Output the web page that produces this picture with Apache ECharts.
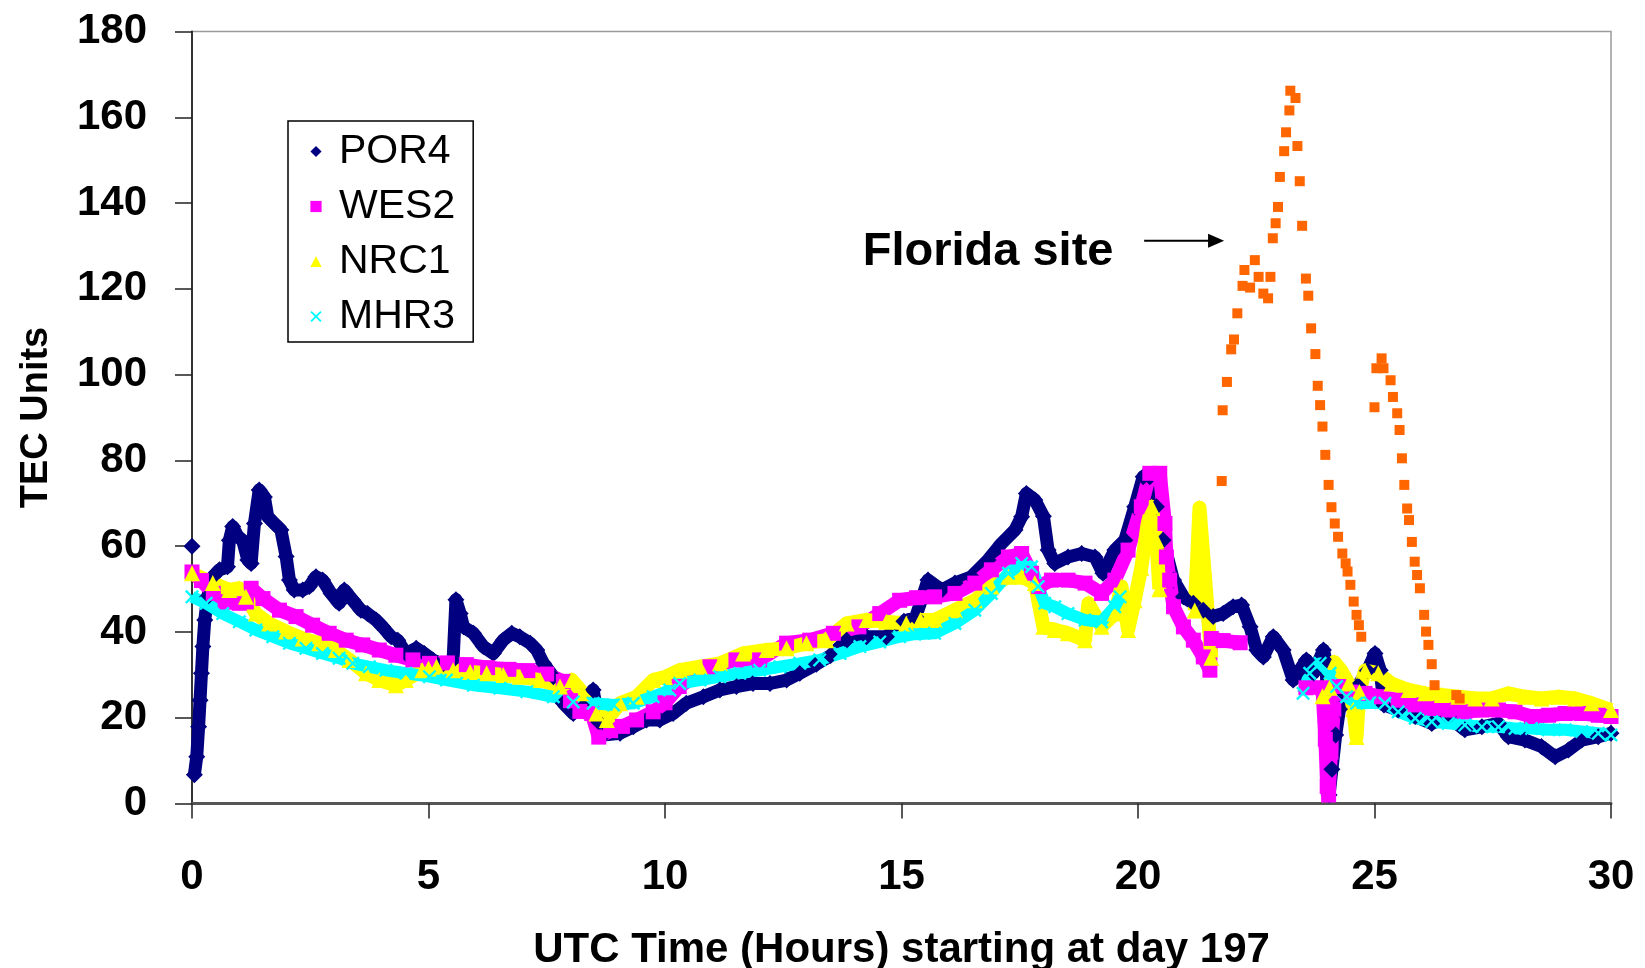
<!DOCTYPE html>
<html><head><meta charset="utf-8">
<script src="https://cdn.jsdelivr.net/npm/echarts@6/dist/echarts.min.js"></script>
<style>html,body{margin:0;padding:0;background:#fff}#c{width:1645px;height:968px}</style>
</head><body><div id="c"></div>
<script>
const FONT = '"Liberation Sans", Arial, Helvetica, sans-serif';

// x-axis / y-axis ranges and tick steps
const xRange = [0, 30], xStep = 5;
const yRange = [0, 180], yStep = 20;
const xTitle = 'UTC Time (Hours) starting at day 197';
const yTitle = 'TEC Units';
const seriesNames = ['POR4', 'WES2', 'NRC1', 'MHR3'];

// [hour, TEC]  ('-' = no data)
const por4 = [[0,60],[0.02,'-'],[0.05,6.7],[0.1,10.9],[0.14,17.9],[0.17,24.1],[0.2,30.4],[0.23,36.6],[0.27,42.8],[0.33,48.2],[0.44,52.9],[0.58,54.5],[0.75,55.2],[0.79,61.4],[0.86,64.6],[0.97,62.2],[1.07,61.4],[1.18,56.8],[1.25,56],[1.32,65.3],[1.42,73.1],[1.53,71.5],[1.6,66.9],[1.74,65.3],[1.88,63.8],[1.99,57.6],[2.06,52.1],[2.16,49.8],[2.34,49.8],[2.48,50.6],[2.62,52.9],[2.76,52.1],[2.94,49],[3.11,46.7],[3.22,49.8],[3.4,47.4],[3.57,45.1],[3.71,44.3],[3.89,42.8],[4.03,41.2],[4.21,38.9],[4.35,38.1],[4.52,35],[4.74,36.2],[4.91,35],[5.09,33.5],[5.3,32.5],[5.52,33.5],[5.58,47.5],[5.67,44.3],[5.74,41.2],[5.95,39.7],[6.16,36.6],[6.37,35],[6.58,38.1],[6.76,39.7],[6.93,38.9],[7.15,37.4],[7.29,35.8],[7.43,32.7],[7.64,29.6],[7.85,23.4],[8.06,21],[8.27,22.6],[8.48,26.5],[8.6,19],[8.7,16],[9.05,16.4],[9.33,17.9],[9.61,19.5],[9.89,19.5],[10.17,21],[10.45,23.4],[10.81,24.9],[11.16,26.5],[11.51,27.3],[11.86,28],[12.22,28],[12.57,28.8],[12.85,30.4],[13.2,32.5],[13.5,34.5],[13.84,38.1],[14.26,38.9],[14.68,38.9],[15.05,42.5],[15.3,43.5],[15.56,52.1],[15.85,49.8],[16.13,51.4],[16.48,52.9],[16.83,56.8],[17.12,60.7],[17.4,63.8],[17.54,66.9],[17.64,72.3],[17.82,70.8],[18,67],[18.1,59.1],[18.24,56],[18.52,57.5],[18.81,58.3],[19.09,57.5],[19.26,53.7],[19.51,59.1],[19.72,61.4],[19.93,69.2],[20.11,76.2],[20.25,76.2],[20.39,69.2],[20.53,61.4],[20.75,52.1],[20.96,48.2],[21.17,46.7],[21.38,45.1],[21.59,43.6],[21.8,44.3],[22.01,45.9],[22.19,46.3],[22.37,41.2],[22.51,35.8],[22.65,34.2],[22.86,38.9],[23.07,35.8],[23.28,28.8],[23.42,31.1],[23.56,33.5],[23.71,30.4],[23.92,35.8],[23.98,33],[24.04,2],[24.1,8],[24.18,16],[24.26,22],[24.33,26],[24.45,27],[24.65,27.5],[24.85,31],[25.01,35],[25.12,31.1],[25.2,23],[25.5,21.8],[25.86,20.3],[26.21,18.7],[26.56,20.3],[26.91,17.2],[27.27,17.9],[27.62,18.7],[27.83,15.6],[28.18,14.8],[28.53,13.3],[28.82,10.9],[29.1,12.5],[29.38,14.8],[29.73,15.6],[30,16.4]];

const wes2 = [[0,54],[0.2,52],[0.45,49],[0.7,47],[1,46.7],[1.15,47],[1.25,50.2],[1.5,47.8],[1.85,45.1],[2.2,43.6],[2.55,41.6],[2.9,39.7],[3.26,38.1],[3.61,37],[3.96,35.8],[4.31,34.6],[4.67,33.5],[5.02,32.7],[5.4,32.8],[5.8,32.4],[6.25,31.7],[6.7,31.3],[7.1,31],[7.5,30.2],[7.85,28.5],[8,24],[8.2,21.5],[8.45,21],[8.6,15.5],[8.85,17],[9.1,18],[9.4,19.5],[9.75,21.4],[10,23.5],[10.3,27.3],[10.95,31.9],[11.5,33.5],[12,33.5],[12.57,37.4],[13.06,38.1],[13.56,39.7],[14.1,41.2],[14.54,44.3],[14.96,47.4],[15.32,48],[15.7,48.2],[16.13,49],[16.55,51.4],[16.9,54.5],[17.26,57.5],[17.54,58.3],[17.75,53.7],[17.9,50.6],[18.17,52.1],[18.52,52.1],[18.88,51.4],[19.23,49],[19.51,52.1],[19.79,59.1],[20.07,69.2],[20.25,77],[20.46,77],[20.57,65.3],[20.6,57.5],[20.67,52.1],[20.75,45.9],[20.96,41.2],[21.17,38.1],[21.38,34.2],[21.52,31.1],[21.55,38.5],[21.8,38],[22.16,37.5],[22.3,'-'],[23.55,27],[23.9,27],[23.96,15],[24,4],[24.03,2],[24.08,12],[24.14,22],[24.25,27.3],[24.5,26],[24.8,25.7],[25.15,24.9],[25.5,24.1],[25.86,23],[26.21,22.2],[26.56,21.8],[26.91,21.4],[27.27,21.8],[27.62,21.8],[27.97,21.4],[28.32,20.3],[28.68,20.6],[29.03,21],[29.38,21],[29.73,20.6],[30,20.3]];

const nrc1 = [[0,53.7],[0.44,51.4],[0.79,49.8],[1,50.2],[1.14,48.2],[1.35,44.3],[1.63,42],[1.99,40.1],[2.34,38.5],[2.69,37.4],[3.04,35.8],[3.33,33.5],[3.68,30.4],[3.96,28.8],[4.31,27.6],[4.52,28.8],[4.87,31.1],[5,31.5],[5.17,31.9],[5.52,31.1],[5.88,30.7],[6.23,30.4],[6.58,30],[6.93,29.6],[7.36,28.8],[7.78,27.3],[8.03,28.8],[8.27,25.7],[8.55,21],[8.77,19.5],[9.05,23.4],[9.4,24.9],[9.75,28.8],[10,29.5],[10.31,31.1],[10.74,31.9],[11.16,32.7],[11.65,35],[12.15,35.8],[12.57,36.2],[12.99,37.4],[13.41,38.1],[13.84,42],[14.26,42.8],[14.68,42.4],[15.1,42],[15.4,42.8],[15.7,42.8],[16.13,45.1],[16.55,47.4],[16.9,50.6],[17.26,52.9],[17.54,52.9],[17.82,51.4],[18,41.2],[18.24,40.5],[18.52,39.7],[18.88,38.1],[18.95,46.7],[19.23,41.2],[19.51,44.3],[19.65,50.6],[19.79,40.5],[19.93,47.4],[20.07,55],[20.2,65],[20.29,69.2],[20.39,61.4],[20.45,50],[20.8,'-'],[21.2,45],[21.3,69],[21.4,55],[21.55,34],[22,'-'],[23.9,25],[24.05,27],[24.15,33],[24.3,31],[24.45,28],[24.55,22],[24.62,15.5],[24.68,26],[24.8,31],[25.08,30.4],[25.36,28],[25.72,26.5],[26.07,25.7],[26.42,25.3],[26.77,24.9],[27.13,24.5],[27.48,24.5],[27.83,25.7],[28.18,24.9],[28.53,24.5],[28.89,24.9],[29.24,24.5],[29.59,23.4],[30,21.8]];

const mhr3 = [[0,48.2],[0.3,46.7],[0.65,44.3],[1,42.4],[1.35,40.5],[1.71,38.9],[2.06,37.4],[2.41,36.2],[2.76,35],[3.11,33.9],[3.4,32.7],[3.75,31.9],[4.1,31.1],[4.52,30.4],[5.02,29.6],[5.38,28.8],[5.95,27.6],[6.51,26.9],[7.08,26.1],[7.64,24.9],[8.06,23.7],[8.48,23.4],[8.91,23],[9.33,23.4],[9.75,24.9],[10.1,26.5],[10.31,28],[10.74,28.8],[11.16,29.6],[11.58,30.4],[12,31.1],[12.43,31.9],[12.85,32.7],[13.27,33.5],[13.7,35],[14.12,36.6],[14.54,37.7],[14.96,38.9],[15.28,39.5],[15.7,39.7],[16.13,42],[16.55,45.1],[16.9,49],[17.26,53.7],[17.54,56],[17.75,55.2],[17.89,50.6],[18.03,46.7],[18.24,45.9],[18.52,44.3],[18.88,42.8],[19.23,42.4],[19.51,45.9],[19.62,48.2],[20,'-'],[23.49,25.7],[23.63,30.4],[23.85,32.7],[24.06,30.4],[24.2,27.3],[24.41,24.9],[24.62,23.4],[24.9,23.5],[25.22,23.4],[25.5,21.4],[25.86,19.9],[26.21,19.1],[26.56,18.7],[26.91,18.3],[27.27,17.9],[27.62,17.9],[27.97,17.5],[28.32,17.5],[28.68,17.2],[29.03,17.2],[29.38,16.8],[29.73,16.4],[30,16]];

const florida = [[21.77,75.2],[21.79,91.7],[21.88,98.3],[21.97,105.9],[22.03,108.2],[22.1,114.3],[22.21,120.7],[22.25,124.4],[22.37,120.3],[22.47,126.7],[22.55,122.8],[22.65,118.9],[22.75,117.8],[22.8,122.8],[22.85,131.8],[22.91,135.3],[22.96,139.1],[23,146.1],[23.09,152.1],[23.13,156.5],[23.2,161.6],[23.22,166.2],[23.33,164.5],[23.37,153.3],[23.42,145.1],[23.47,134.7],[23.55,122.4],[23.6,118.4],[23.66,110.8],[23.75,104.8],[23.8,97.4],[23.85,92.9],[23.9,87.9],[23.96,81.3],[24.03,74.3],[24.09,69.1],[24.16,65.3],[24.23,62.2],[24.32,58.3],[24.39,56],[24.43,54.1],[24.49,51],[24.56,47.1],[24.62,44],[24.67,41.6],[24.72,38.9],[25,92.4],[25.04,101.5],[25.15,103.8],[25.19,101.5],[25.34,98.7],[25.39,94.8],[25.48,91],[25.53,87.1],[25.58,80.5],[25.63,74.3],[25.69,68.8],[25.73,66.1],[25.79,61],[25.85,56.4],[25.9,53.3],[25.96,50.2],[26.05,44],[26.09,40.1],[26.14,37],[26.21,32.5],[26.27,27.6],[26.73,25.3],[26.8,24.5]];

// annotation, in data coordinates
const noteText = 'Florida site';
const notePos = [16.83, 128.6];
const arrowFrom = [20.13, 131.2], arrowTo = [21.82, 131.2];

const colors = {POR4:'#000080', WES2:'#FF00FF', NRC1:'#FFFF00', MHR3:'#00FFFF', Florida:'#FF6600'};
const xPath = 'path://M0,1.2L1.2,0L5,3.8L8.8,0L10,1.2L6.2,5L10,8.8L8.8,10L5,6.2L1.2,10L0,8.8L3.8,5Z';
const symbols = {POR4:'diamond', WES2:'rect', NRC1:'triangle', MHR3:xPath};

function band(name, data, size, width) {
  return {
    type:'line', name, data, symbol:symbols[name], symbolSize:size,
    showSymbol:true, showAllSymbol:true, connectNulls:false, silent:true,
    lineStyle:{width:width, color:colors[name], join:'round'},
    itemStyle:{color:colors[name]}, emphasis:{disabled:true}
  };
}

const chart = echarts.init(document.getElementById('c'));
const axisFont = {fontFamily:FONT, fontWeight:'bold', color:'#000'};
chart.setOption({
  animation:false,
  grid:{left:192, right:34, top:31.5, bottom:164.4, containLabel:false, outerBoundsMode:'none',
        show:true, borderColor:'#9a9a9a', borderWidth:1.5},
  xAxis:{type:'value', min:xRange[0], max:xRange[1], interval:xStep,
    name:xTitle, nameLocation:'middle', nameGap:126,
    nameTextStyle:Object.assign({fontSize:42}, axisFont),
    axisLine:{show:true, onZero:false, lineStyle:{color:'#555', width:3}},
    axisTick:{show:true, length:15, lineStyle:{color:'#222', width:1.5}},
    axisLabel:Object.assign({margin:53, fontSize:42}, axisFont),
    splitLine:{show:false}},
  yAxis:{type:'value', min:yRange[0], max:yRange[1], interval:yStep,
    name:yTitle, nameLocation:'middle', nameGap:136,
    nameTextStyle:Object.assign({fontSize:38}, axisFont),
    axisLine:{show:true, lineStyle:{color:'#333', width:2}},
    axisTick:{show:true, length:17, lineStyle:{color:'#222', width:1.5}},
    axisLabel:Object.assign({margin:45, fontSize:42}, axisFont),
    splitLine:{show:false}},
  legend:{orient:'vertical', left:288, top:121, padding:[10,18,5,10], itemGap:14,
    itemWidth:36, itemHeight:14, borderColor:'#000', borderWidth:1.5, backgroundColor:'#fff',
    selectedMode:false, lineStyle:{opacity:0, width:0},
    textStyle:{fontFamily:FONT, fontSize:41, color:'#000'},
    data:seriesNames},
  series:[
    band('POR4', por4, 17, 13),
    band('WES2', wes2, 15, 14),
    band('NRC1', nrc1, 16, 14),
    band('MHR3', mhr3, 14, 12),
    {type:'scatter', name:'Florida', data:florida, symbol:'rect', symbolSize:10, silent:true,
     itemStyle:{color:colors.Florida, opacity:1}, z:3}
  ]
});

const np = chart.convertToPixel({gridIndex:0}, notePos);
const a0 = chart.convertToPixel({gridIndex:0}, arrowFrom);
const a1 = chart.convertToPixel({gridIndex:0}, arrowTo);
chart.setOption({graphic:[
  {type:'text', x:np[0], y:np[1], style:{text:noteText, font:'bold 47px ' + FONT, fill:'#000', align:'center', verticalAlign:'middle'}},
  {type:'line', shape:{x1:a0[0], y1:a0[1], x2:a1[0]-14, y2:a1[1]}, style:{stroke:'#000', lineWidth:2}},
  {type:'polygon', shape:{points:[[a1[0], a1[1]], [a1[0]-16, a1[1]-7], [a1[0]-16, a1[1]+7]]}, style:{fill:'#000'}}
]});
</script>
</body></html>
